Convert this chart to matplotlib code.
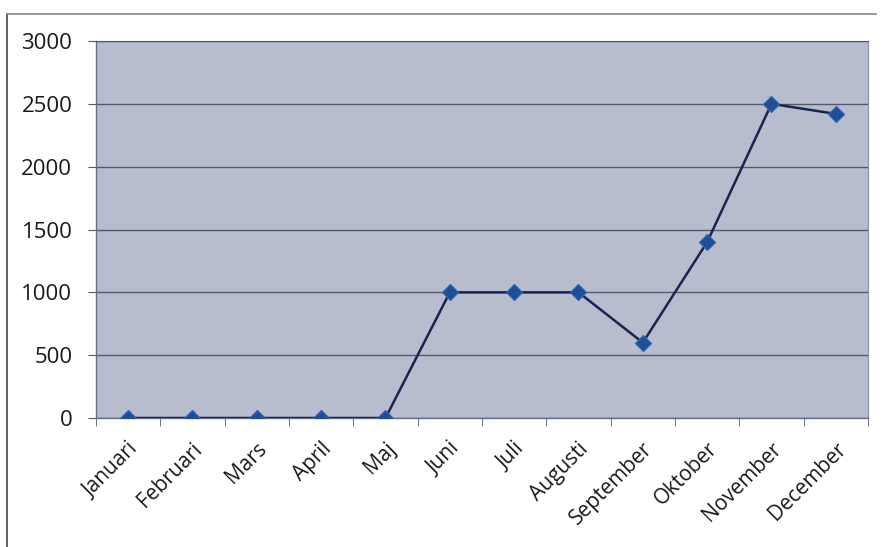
import numpy as np
import matplotlib.pyplot as plt
import matplotlib.transforms as mtransforms
from matplotlib.lines import Line2D

# data
months = ["Januari", "Februari", "Mars", "April", "Maj", "Juni", "Juli",
          "Augusti", "September", "Oktober", "November", "December"]
values = [0, 0, 0, 0, 0, 1000, 1000, 1000, 600, 1400, 2500, 2420]
yticks = [0, 500, 1000, 1500, 2000, 2500, 3000]

plt.rcParams["font.family"] = ["Open Sans", "DejaVu Sans"]

fig = plt.figure(figsize=(8.83, 5.47), dpi=100)
fig.patch.set_facecolor("white")
ax = fig.add_axes([0.1087, 0.2358, 0.8743, 0.6892])
ax.set_facecolor("#b8bccf")

x = np.arange(len(months))
ax.plot(x, values, color="#17264f", lw=1.8, zorder=3)
ax.plot(x, values, ls="none", marker="D", ms=8, mfc="#1f4e96",
        mec="#3563ad", mew=0.9, zorder=4)

ax.set_xlim(-0.5, len(months) - 0.5)
ax.set_ylim(0, 3000)
ax.set_yticks(yticks)
ax.set_yticklabels([str(v) for v in yticks], fontsize=16, color="#1a1a1a")
ax.yaxis.grid(True, color="#55586a", lw=1.0)
ax.set_axisbelow(True)

ax.set_xticks(x)
ax.set_xticklabels(months, fontsize=15, color="#1a1a1a", rotation=45,
                   ha="right", va="center", rotation_mode="anchor")
ax.set_xticks(np.arange(-0.5, len(months)), minor=True)
ax.tick_params(axis="x", which="major", length=0, pad=20)
ax.tick_params(axis="x", which="minor", length=6, color="#55586a", direction="out")
ax.tick_params(axis="y", length=6, color="#55586a", direction="out", pad=11)

# nudge month labels right, as in the original
shift = mtransforms.ScaledTranslation(5 / 72, 0, fig.dpi_scale_trans)
for lab in ax.get_xticklabels():
    lab.set_transform(lab.get_transform() + shift)

for side in ["left", "bottom"]:
    ax.spines[side].set_color("#6a6e88")
    ax.spines[side].set_linewidth(1.0)
ax.spines["top"].set_color("#55586a")
ax.spines["right"].set_color("#8a8da0")
ax.spines["right"].set_linewidth(0.8)

# outer chart frame (left and top edges visible in the scan)
fig.add_artist(Line2D([7 / 883, 7 / 883], [0, 1 - 14 / 547], color="#444444", lw=1.2))
fig.add_artist(Line2D([7 / 883, 876 / 883], [1 - 14 / 547, 1 - 14 / 547], color="#888888", lw=1.2))

fig.savefig("out.png", dpi=100)
